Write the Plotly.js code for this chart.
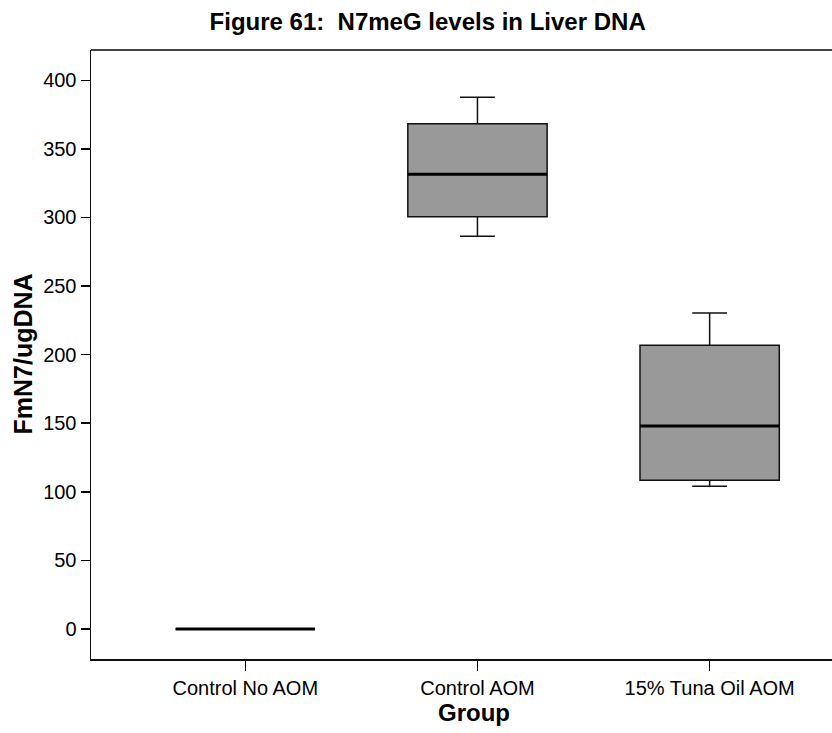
<!DOCTYPE html>
<html>
<head>
<meta charset="utf-8">
<script src="https://cdn.plot.ly/plotly-3.0.1.min.js"></script>
<style>html,body{margin:0;padding:0;background:#fff;}#chart{width:832px;height:733px;}</style>
</head>
<body>
<div id="chart"></div>
<script>
const categories = ["Control No AOM", "Control AOM", "15% Tuna Oil AOM"];
const lowerWhisker = [0, 286.3, 104.0];
const q1Values = [0, 300.6, 108.4];
const medianValues = [0, 331.5, 148.0];
const q3Values = [0, 368.4, 206.8];
const upperWhisker = [0, 387.6, 230.4];
const yTicks = [0, 50, 100, 150, 200, 250, 300, 350, 400];

const positions = categories.map((c, i) => i);
const boxWidth = 0.6;

const boxTrace = {
  type: 'box',
  x: positions,
  q1: q1Values,
  median: medianValues,
  q3: q3Values,
  lowerfence: lowerWhisker,
  upperfence: upperWhisker,
  width: boxWidth,
  whiskerwidth: 0.25,
  fillcolor: '#999999',
  line: {color: '#111111', width: 1.5},
  hoverinfo: 'none',
  showlegend: false
};

const medX = [], medY = [];
positions.forEach((p, i) => {
  medX.push(p - boxWidth / 2, p + boxWidth / 2, null);
  medY.push(medianValues[i], medianValues[i], null);
});
const medianTrace = {
  type: 'scatter', mode: 'lines', x: medX, y: medY,
  line: {color: '#000000', width: 3}, hoverinfo: 'none', showlegend: false
};

const font = "Liberation Sans, Arial, sans-serif";
const layout = {
  width: 832, height: 733,
  margin: {l: 91, r: 0, t: 50, b: 74},
  paper_bgcolor: '#ffffff', plot_bgcolor: '#ffffff',
  title: {text: '<b>Figure 61:  N7meG levels in Liver DNA</b>', font: {family: font, size: 24, color: '#000'}, x: 0.514, xanchor: 'center', y: 0.97, yanchor: 'middle'},
  xaxis: {
    range: [-0.6645, 2.527],
    tickvals: positions, ticktext: categories,
    ticks: 'outside', ticklen: 10, tickwidth: 1.5, tickcolor: '#000',
    showline: true, linecolor: '#111', linewidth: 1.5,
    showgrid: false, zeroline: false,
    tickfont: {family: font, size: 20, color: '#000'}
  },
  yaxis: {
    range: [-21.9, 422.1],
    tickvals: yTicks,
    ticks: 'outside', ticklen: 9, tickwidth: 1.5, tickcolor: '#000',
    showline: true, linecolor: '#111', linewidth: 1.5,
    showgrid: false, zeroline: false,
    tickfont: {family: font, size: 20, color: '#000'}
  },
  annotations: [
    {text: '<b>Group</b>', xref: 'paper', yref: 'paper', x: 0.5, y: 0, xshift: 12, yshift: -53, xanchor: 'center', yanchor: 'middle', showarrow: false, font: {family: font, size: 24, color: '#000'}},
    {text: '<b>FmN7/ugDNA</b>', xref: 'paper', yref: 'paper', x: 0, y: 0.5, xshift: -69, xanchor: 'center', yanchor: 'middle', textangle: -90, showarrow: false, font: {family: font, size: 25, color: '#000'}}
  ],
  shapes: [{type: 'line', xref: 'paper', yref: 'paper', x0: 0, x1: 1, y0: 1, y1: 1, line: {color: '#444', width: 2}}]
};

Plotly.newPlot('chart', [boxTrace, medianTrace], layout, {displayModeBar: false, staticPlot: true});
</script>
</body>
</html>
